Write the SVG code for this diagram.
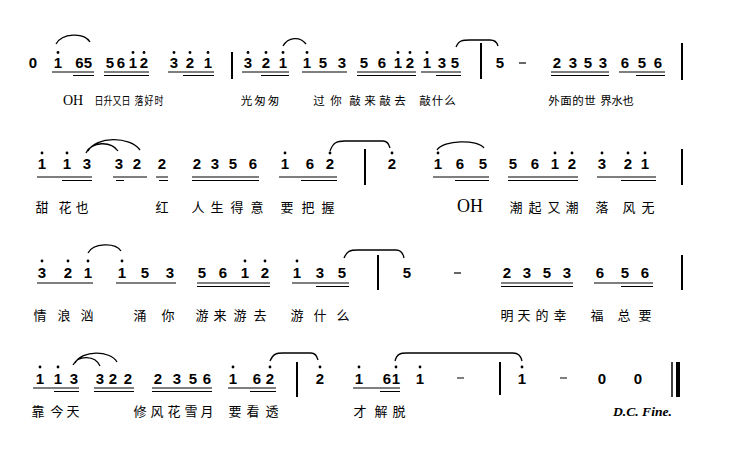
<svg xmlns="http://www.w3.org/2000/svg" width="736" height="462" viewBox="0 0 736 462">
<style>
.n{font-family:"Liberation Sans",Arial,sans-serif;font-weight:bold;font-size:15px;text-anchor:middle;fill:#000}
.ly{font-family:"Noto Sans CJK SC",sans-serif;font-size:13px;fill:#000;text-anchor:middle}
.ly1{font-family:"Noto Sans CJK SC",sans-serif;font-size:11.5px;fill:#000;text-anchor:middle}
.oh{font-family:"Liberation Serif",serif;fill:#000}
.dc{font-family:"Liberation Serif",serif;font-weight:bold;font-style:italic;font-size:13px;fill:#000}
.bar{stroke:#000;stroke-width:2;fill:none}
.u{stroke:#000;stroke-width:1.2;fill:none}
.sl{stroke:#000;stroke-width:1.3;fill:none}
.d{fill:#000}
</style>
<rect width="736" height="462" fill="#fff"/>

<!-- Row 1 -->
<g id="row1">
<text class="n" x="33 58 79.5 88 110 121 133 144 174 190 208 248 266 283 307 323 342 364 382 398 410 427 442 455 500 557 573 588 603 625 642 658" y="68">01655612321321153561213552353656</text>
<g class="d">
<circle cx="58" cy="52.5" r="1.4"/><circle cx="133" cy="52.5" r="1.4"/><circle cx="144" cy="52.5" r="1.4"/>
<circle cx="174" cy="52.5" r="1.4"/><circle cx="190" cy="52.5" r="1.4"/><circle cx="208" cy="52.5" r="1.4"/>
<circle cx="248" cy="52.5" r="1.4"/><circle cx="266" cy="52.5" r="1.4"/><circle cx="283" cy="52.5" r="1.4"/>
<circle cx="307" cy="52.5" r="1.4"/><circle cx="398" cy="52.5" r="1.4"/><circle cx="410" cy="52.5" r="1.4"/>
<circle cx="427" cy="52.5" r="1.4"/>
</g>
<path class="u" d="M52,72H94M73,75.5H94M104,72H149M104,75.5H149M168,72H214M183,75.5H214M242,72H289M261,75.5H289M302,72H347M357,72H416M357,75.5H416M421,72H461M436,75.5H461M551,72H609M551,75.5H609M619,72H665M636,75.5H665"/>
<path class="u" d="M519,63H526" stroke-width="2"/>
<path class="bar" d="M232,52V79M481,43V79M682,43V80"/>
<path class="sl" d="M56,44C62,33 84,32 90,42M283,46C288,37 300,36 306,44M456,47C459,40 463,40 470,40L490,40C494,40 497,42 498,46"/>
<text class="oh" x="63" y="105" font-size="14">OH</text>
<text class="ly1" transform="translate(99,105) scale(0.78,1)" x="0 11.5 23 34.6" y="0">日升又日</text>
<text class="ly1" transform="translate(139,105) scale(0.78,1)" x="0 12.8 25.6" y="0">落好时</text>
<text class="ly1" x="246.5 260 273.5" y="105">光匆匆</text>
<text class="ly1" x="319 336" y="105">过你</text>
<text class="ly1" x="355 370 385 400" y="105">敲来敲去</text>
<text class="ly1" x="425 437.5 450" y="105">敲什么</text>
<text class="ly1" x="554 566 578 590" y="105">外面的世</text>
<text class="ly1" x="606 617 628" y="105">界水也</text>
</g>

<!-- Row 2 -->
<g id="row2">
<text class="n" x="42 67 87 119 137 162 197 215 233 253 285 310 330 392 438 460 483 513 535 555 572 602 628 645" y="169">113322235616221655612321</text>
<g class="d">
<circle cx="42" cy="153" r="1.4"/><circle cx="67" cy="153" r="1.4"/><circle cx="285" cy="153" r="1.4"/>
<circle cx="330" cy="153" r="1.4"/><circle cx="392" cy="153" r="1.4"/><circle cx="438" cy="153" r="1.4"/>
<circle cx="555" cy="153" r="1.4"/><circle cx="572" cy="153" r="1.4"/><circle cx="602" cy="153" r="1.4"/>
<circle cx="628" cy="153" r="1.4"/><circle cx="645" cy="153" r="1.4"/>
</g>
<path class="u" d="M37,177H92M62,180.5H92M113,177H147M116,180.5H124M156,177H168M159,180.5H168M192,177H259M192,180.5H259M279,177H337M301,180.5H337M433,177H489M455,180.5H489M508,177H578M508,180.5H578M597,177H656M621,180.5H656"/>
<path class="bar" d="M365,149V185M682,149V185"/>
<path class="sl" d="M86,153C92,141 111,141 118,151M88,151C96,136 130,136 140,150M330,151C333,143 336,141 345,141L383,141C387,141 389,144 390,148M437,150C443,140 478,139 484,148"/>
<text class="ly" x="42 65 82 162 198 217 237 257 287 308 328" y="212">甜花也红人生得意要把握</text>
<text class="oh" x="457" y="212" font-size="18" textLength="26">OH</text>
<text class="ly" x="516 535 554 572 602 629 648" y="212">潮起又潮落风无</text>
</g>

<!-- Row 3 -->
<g id="row3">
<text class="n" x="42 68 88 122 145 170 202 223 245 265 297 320 342 407 507 527 547 567 600 625 645" y="278">321153561213552353656</text>
<g class="d">
<circle cx="42" cy="261" r="1.4"/><circle cx="68" cy="261" r="1.4"/><circle cx="88" cy="261" r="1.4"/>
<circle cx="122" cy="261" r="1.4"/><circle cx="245" cy="261" r="1.4"/><circle cx="265" cy="261" r="1.4"/>
<circle cx="297" cy="261" r="1.4"/>
</g>
<path class="u" d="M37,283H93M116,283H176M197,283H270M197,286.5H270M292,283H349M316,286.5H349M501,283H573M501,286.5H573M594,283H653M621,286.5H653"/>
<path class="u" d="M454,273H461" stroke-width="2"/>
<path class="bar" d="M378,255V290M682,255V290"/>
<path class="sl" d="M88,253C93,243 115,242 121,251M344,258C347,251 350,250 358,250L396,250C400,250 403,253 404,258"/>
<text class="ly" x="40 64 87 140 168 202 220 240 260 297 320 343" y="320">情浪汹涌你游来游去游什么</text>
<text class="ly" x="507 524 542 560 597 624 645" y="320">明天的幸福总要</text>
</g>

<!-- Row 4 -->
<g id="row4">
<text class="n" x="40 58 74 100 113 128 158 177 193 207 233 257 270 320 359 387 396 420 522 602 638" y="384">113322235616221611100</text>
<g class="d">
<circle cx="40" cy="367" r="1.4"/><circle cx="58" cy="367" r="1.4"/><circle cx="233" cy="367" r="1.4"/>
<circle cx="270" cy="367" r="1.4"/><circle cx="320" cy="367" r="1.4"/><circle cx="359" cy="367" r="1.4"/>
<circle cx="396" cy="367" r="1.4"/><circle cx="420" cy="367" r="1.4"/><circle cx="522" cy="367" r="1.4"/>
</g>
<path class="u" d="M33,388H79M54,391.5H79M94,388H134M94,391.5H134M152,388H212M152,391.5H212M228,388H276M250,391.5H276M353,388H400M380,391.5H400"/>
<path class="u" d="M457,378H464M560,378H567" stroke-width="2"/>
<path class="bar" d="M297,362V397M500,362V395"/>
<path stroke="#000" stroke-width="1.5" d="M672,362V397"/>
<path stroke="#000" stroke-width="4" d="M678,362V397"/>
<path class="sl" d="M73,365C78,355 95,355 100,366M75,363C82,350 110,350 117,362M270,361C273,354 276,353 283,353L311,353C315,353 317,356 318,360M395,361C397,354 400,353 407,353L513,353C518,353 521,356 522,361"/>
<text class="ly" x="38 57 73 140 157 174 191 207 235 253 272 360 381 399" y="416">靠今天修风花雪月要看透才解脱</text>
<text class="dc" x="613" y="416" textLength="59" lengthAdjust="spacingAndGlyphs">D.C. Fine.</text>
</g>
</svg>
